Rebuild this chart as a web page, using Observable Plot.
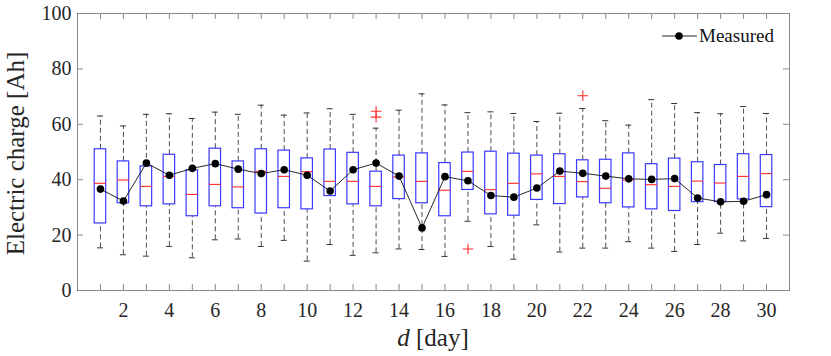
<!DOCTYPE html>
<html>
<head>
<meta charset="utf-8">
<script src="https://cdn.jsdelivr.net/npm/d3@7"></script>
<script src="https://cdn.jsdelivr.net/npm/@observablehq/plot@0.6"></script>
<style>
  html, body { margin: 0; padding: 0; background: #fff; }
  #chart { width: 831px; height: 356px; }
</style>
</head>
<body>
<div id="chart"></div>
<script>
const days = [1,2,3,4,5,6,7,8,9,10,11,12,13,14,15,16,17,18,19,20,21,22,23,24,25,26,27,28,29,30];
const xTickLabels = [2,4,6,8,10,12,14,16,18,20,22,24,26,28,30];
const yTicks = [0,20,40,60,80,100];

const whiskerHigh = [63.0,59.4,63.6,63.8,62.1,64.4,63.6,66.9,63.3,64.1,65.6,63.6,58.6,65.1,71.0,67.0,64.2,64.5,63.9,61.0,64.0,65.7,61.3,59.7,68.9,67.5,64.2,63.8,66.4,63.9];
const q3 = [51.0,46.6,44.8,49.0,43.4,51.2,46.6,51.0,50.5,47.7,50.9,49.7,42.9,48.7,49.5,46.0,49.8,50.1,49.4,48.7,49.2,47.0,47.2,49.5,45.6,47.6,46.3,45.3,49.2,48.9];
const median = [38.7,39.9,37.6,41.2,34.7,38.3,37.4,43.0,41.2,42.9,39.4,39.4,37.6,41.0,39.4,36.2,43.0,36.4,38.7,42.1,41.2,39.3,36.9,39.9,38.2,37.6,39.5,38.8,41.2,42.2];
const q1 = [24.2,31.5,30.4,31.1,26.8,30.4,29.7,27.8,29.7,29.3,34.1,31.1,30.4,33.0,31.5,26.8,36.3,27.5,27.0,32.7,31.2,33.6,31.5,30.0,29.3,28.7,31.9,31.9,32.9,30.1];
const whiskerLow = [15.4,12.9,12.4,15.9,11.8,18.3,18.6,15.9,18.1,10.6,16.6,12.7,13.6,15.0,14.8,12.3,25.0,15.9,11.3,23.7,13.9,15.3,15.3,17.6,15.3,14.1,16.6,20.7,17.9,18.8];
const measured = [36.6,32.3,46.0,41.6,44.1,45.8,43.8,42.2,43.6,41.6,35.9,43.6,46.0,41.3,22.6,41.1,39.6,34.3,33.7,37.0,43.1,42.3,41.3,40.3,40.1,40.4,33.4,32.0,32.2,34.6];
const outlierDays = [13,13,17,22];
const outlierValues = [64.7,62.6,15.0,70.3];

const boxes = days.map((d, i) => ({day: d, lo: whiskerLow[i], q1: q1[i], med: median[i], q3: q3[i], hi: whiskerHigh[i]}));
const meas = days.map((d, i) => ({day: d, value: measured[i]}));
const outliers = outlierDays.map((d, i) => ({day: d, value: outlierValues[i]}));

const W = 831, H = 356;
const mL = 77, mR = 42, mT = 13, mB = 66;
const plotW = W - mL - mR, plotH = H - mT - mB;
const boxHalf = 0.25, capHalf = 0.13;
const frameColor = "#8a8a8a";
const serif = "Liberation Serif, DejaVu Serif, serif";

const chart = Plot.plot({
  width: W, height: H,
  marginLeft: mL, marginRight: mR, marginTop: mT, marginBottom: mB,
  style: {fontFamily: serif, background: "#fff", color: "#262626"},
  x: {domain: [0, 31]},
  y: {domain: [0, 100]},
  marks: [
    Plot.frame({stroke: frameColor}),
    // inward ticks on all four sides
    Plot.tickX(days, {x: d => d, insetTop: plotH - 6, stroke: frameColor}),
    Plot.tickX(days, {x: d => d, insetBottom: plotH - 6, stroke: frameColor}),
    Plot.tickY(yTicks, {y: d => d, insetRight: plotW - 6, stroke: frameColor}),
    Plot.tickY(yTicks, {y: d => d, insetLeft: plotW - 6, stroke: frameColor}),
    Plot.axisX(xTickLabels, {tickSize: 0, tickPadding: 12, fontSize: 20, fontFamily: serif, label: null}),
    Plot.axisY(yTicks, {tickSize: 0, tickPadding: 6, fontSize: 20, fontFamily: serif, label: null}),
    // whiskers and caps
    Plot.ruleX(boxes, {x: "day", y1: "q3", y2: "hi", stroke: "#4d4d4d", strokeDasharray: "5,3"}),
    Plot.ruleX(boxes, {x: "day", y1: "lo", y2: "q1", stroke: "#4d4d4d", strokeDasharray: "5,3"}),
    Plot.ruleY(boxes, {y: "hi", x1: d => d.day - capHalf, x2: d => d.day + capHalf, stroke: "#333"}),
    Plot.ruleY(boxes, {y: "lo", x1: d => d.day - capHalf, x2: d => d.day + capHalf, stroke: "#333"}),
    // boxes and medians
    Plot.rect(boxes, {x1: d => d.day - boxHalf, x2: d => d.day + boxHalf, y1: "q1", y2: "q3", fill: "none", stroke: "#3a3aff", strokeWidth: 1.2}),
    Plot.ruleY(boxes, {y: "med", x1: d => d.day - boxHalf, x2: d => d.day + boxHalf, stroke: "#ff2a2a", strokeWidth: 1.1}),
    // outliers
    Plot.dot(outliers, {x: "day", y: "value", symbol: "plus", r: 3.5, stroke: "#ff2a2a", strokeWidth: 1.1}),
    // measured series
    Plot.line(meas, {x: "day", y: "value", stroke: "#111", strokeWidth: 0.9}),
    Plot.dot(meas, {x: "day", y: "value", r: 3.8, fill: "#000", stroke: "none"})
  ]
});

document.getElementById("chart").appendChild(chart);

const svg = d3.select(chart);

// y axis title
svg.append("text")
  .attr("transform", `translate(18, ${mT + plotH / 2 + 2}) rotate(-90)`)
  .attr("text-anchor", "middle")
  .attr("dominant-baseline", "middle")
  .attr("font-size", 25)
  .attr("font-family", serif)
  .attr("fill", "#262626")
  .text("Electric charge [Ah]");

// x axis title with italic variable
const xl = svg.append("text")
  .attr("x", mL + plotW / 2).attr("y", 346)
  .attr("text-anchor", "middle")
  .attr("font-size", 25)
  .attr("font-family", serif)
  .attr("fill", "#262626");
xl.append("tspan").attr("font-style", "italic").text("d");
xl.append("tspan").text(" [day]");

// legend
const lg = svg.append("g");
lg.append("line").attr("x1", 662).attr("x2", 697).attr("y1", 36).attr("y2", 36).attr("stroke", "#111").attr("stroke-width", 0.9);
lg.append("circle").attr("cx", 679).attr("cy", 36).attr("r", 3.8).attr("fill", "#000");
lg.append("text").attr("x", 699).attr("y", 42).attr("text-anchor", "start").attr("font-size", 19).attr("font-family", serif).attr("fill", "#111").text("Measured");
</script>
</body>
</html>
